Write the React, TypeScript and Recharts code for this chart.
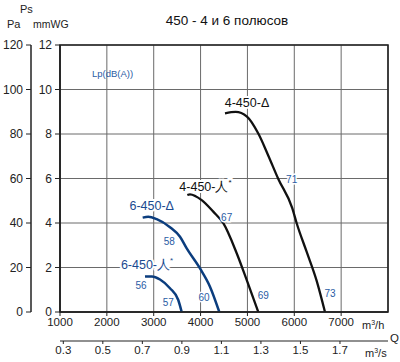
import React from 'react';
import {
  ComposedChart,
  Line,
  Scatter,
  XAxis,
  YAxis,
  CartesianGrid,
  ReferenceArea,
} from 'recharts';

// ---- axis ticks ----
const flowTicks = [1000, 2000, 3000, 4000, 5000, 6000, 7000];
const qTicks = [0.3, 0.5, 0.7, 0.9, 1.1, 1.3, 1.5, 1.7];
const mmTicks = [0, 2, 4, 6, 8, 10, 12];
const paTicks = [0, 20, 40, 60, 80, 100, 120];

// ---- curves: q = m3/h, p = mmWG ----
const curve4Delta = [
  { q: 4521, p: 8.93 },
  { q: 4749, p: 8.99 },
  { q: 4990, p: 8.78 },
  { q: 5232, p: 8.02 },
  { q: 5439, p: 7.06 },
  { q: 5659, p: 5.98 },
  { q: 5957, p: 4.67 },
  { q: 6051, p: 3.99 },
  { q: 6265, p: 2.7 },
  { q: 6478, p: 1.4 },
  { q: 6655, p: 0 },
];
const curve4Star = [
  { q: 3717, p: 5.26 },
  { q: 3774, p: 5.29 },
  { q: 4024, p: 5.03 },
  { q: 4271, p: 4.51 },
  { q: 4485, p: 3.99 },
  { q: 4771, p: 2.64 },
  { q: 4984, p: 1.44 },
  { q: 5232, p: 0 },
];
const curve6Delta = [
  { q: 2765, p: 4.24 },
  { q: 2884, p: 4.28 },
  { q: 3064, p: 4.17 },
  { q: 3347, p: 3.81 },
  { q: 3561, p: 3.38 },
  { q: 3704, p: 2.86 },
  { q: 3988, p: 1.96 },
  { q: 4201, p: 1.14 },
  { q: 4400, p: 0 },
];
const curve6Star = [
  { q: 2814, p: 1.59 },
  { q: 2963, p: 1.6 },
  { q: 3134, p: 1.46 },
  { q: 3347, p: 1.07 },
  { q: 3524, p: 0.54 },
  { q: 3597, p: 0 },
];

// ---- annotations ----
const curveNames = [
  { q: 4991, p: 9.39, text: '4-450-Δ', star: false, color: '#111' },
  { q: 4105, p: 5.62, text: '4-450-人', star: true, color: '#111' },
  { q: 2957, p: 4.76, text: '6-450-Δ', star: false, color: '#1a4a90' },
  { q: 2857, p: 2.11, text: '6-450-人', star: true, color: '#1a4a90' },
];
const noiseLabels = [
  { q: 3333, p: 3.16, text: '58' },
  { q: 2729, p: 1.18, text: '56' },
  { q: 3311, p: 0.42, text: '57' },
  { q: 4073, p: 0.66, text: '60' },
  { q: 4557, p: 4.26, text: '67' },
  { q: 5339, p: 0.76, text: '69' },
  { q: 5944, p: 5.96, text: '71' },
  { q: 6762, p: 0.81, text: '73' },
];
// m3/s tick positions placed on the secondary axis
const qAxisPoints = qTicks.map((s) => ({ s, p: 0 }));

const FONT = 'Liberation Sans, Arial, sans-serif';
const BLUE = '#0b3d7e';
const LABEL_BLUE = '#2a5ca4';
const DARK = '#222';

const NameShape = (props: any) => {
  const { cx, cy, payload } = props;
  return (
    <text
      x={cx}
      y={cy}
      textAnchor="middle"
      dominantBaseline="central"
      fontFamily={FONT}
      fontSize={12.5}
      fill={payload.color}
      stroke="#fff"
      strokeWidth={4}
      paintOrder="stroke"
    >
      {payload.text}
      {payload.star ? (
        <tspan fontSize={8} dy={-5}>
          *
        </tspan>
      ) : null}
    </text>
  );
};

const NoiseShape = (props: any) => {
  const { cx, cy, payload } = props;
  return (
    <text
      x={cx}
      y={cy}
      textAnchor="middle"
      dominantBaseline="central"
      fontFamily={FONT}
      fontSize={10}
      fill={LABEL_BLUE}
      stroke="#fff"
      strokeWidth={3}
      paintOrder="stroke"
    >
      {payload.text}
    </text>
  );
};

const NoShape = () => <g />;

export default function App() {
  const tickStyle = { fill: DARK, fontSize: 11.5, fontFamily: FONT };
  return (
    <div style={{ position: 'absolute', left: 0, top: 0, width: 400, height: 362, background: '#fff' }}>
      <ComposedChart
        width={400}
        height={362}
        margin={{ top: 45, right: 12, bottom: 0, left: 0 }}
      >
        <CartesianGrid
          xAxisId="flow"
          yAxisId="mm"
          stroke="#6a6a6a"
          strokeWidth={1}
        />
        <XAxis
          xAxisId="flow"
          type="number"
          dataKey="q"
          domain={[1000, 8000]}
          allowDataOverflow
          ticks={flowTicks}
          height={29}
          tickSize={4}
          tickMargin={2}
          axisLine={{ stroke: DARK, strokeWidth: 1.5 }}
          tickLine={{ stroke: DARK }}
          tick={tickStyle}
        />
        <XAxis
          xAxisId="q"
          type="number"
          dataKey="s"
          domain={[0.2833, 1.943]}
          allowDataOverflow
          ticks={qTicks}
          interval={0}
          tickFormatter={(v: number) => v.toFixed(1)}
          height={21}
          tickSize={3}
          tickMargin={2}
          axisLine={{ stroke: DARK, strokeWidth: 1.2 }}
          tickLine={{ stroke: DARK }}
          tick={tickStyle}
        />
        <YAxis
          yAxisId="mm"
          type="number"
          domain={[0, 12]}
          allowDataOverflow
          ticks={mmTicks}
          width={29}
          tickSize={5}
          tickMargin={3}
          axisLine={{ stroke: DARK, strokeWidth: 1.5 }}
          tickLine={{ stroke: DARK }}
          tick={{ fill: DARK, fontSize: 12, fontFamily: FONT }}
        />
        <YAxis
          yAxisId="pa"
          type="number"
          domain={[0, 120]}
          allowDataOverflow
          ticks={paTicks}
          width={31}
          tickSize={5}
          tickMargin={3}
          axisLine={{ stroke: DARK, strokeWidth: 1.5 }}
          tickLine={{ stroke: DARK }}
          tick={{ fill: DARK, fontSize: 12, fontFamily: FONT }}
        />
        <Scatter
          xAxisId="q"
          yAxisId="mm"
          data={qAxisPoints}
          dataKey="p"
          shape={NoShape}
          isAnimationActive={false}
        />
        <Scatter
          xAxisId="flow"
          yAxisId="mm"
          data={noiseLabels}
          dataKey="p"
          shape={NoiseShape}
          isAnimationActive={false}
        />
        <Scatter
          xAxisId="flow"
          yAxisId="mm"
          data={curveNames}
          dataKey="p"
          shape={NameShape}
          isAnimationActive={false}
        />
        <Line
          xAxisId="flow"
          yAxisId="mm"
          data={curve4Delta}
          dataKey="p"
          type="monotone"
          stroke="#111"
          strokeWidth={2.3}
          dot={false}
          activeDot={false}
          isAnimationActive={false}
        />
        <Line
          xAxisId="flow"
          yAxisId="mm"
          data={curve4Star}
          dataKey="p"
          type="monotone"
          stroke="#111"
          strokeWidth={2.3}
          dot={false}
          activeDot={false}
          isAnimationActive={false}
        />
        <Line
          xAxisId="flow"
          yAxisId="mm"
          data={curve6Delta}
          dataKey="p"
          type="monotone"
          stroke={BLUE}
          strokeWidth={2.5}
          dot={false}
          activeDot={false}
          isAnimationActive={false}
        />
        <Line
          xAxisId="flow"
          yAxisId="mm"
          data={curve6Star}
          dataKey="p"
          type="monotone"
          stroke={BLUE}
          strokeWidth={2.5}
          dot={false}
          activeDot={false}
          isAnimationActive={false}
        />
        <ReferenceArea
          xAxisId="flow"
          yAxisId="mm"
          x1={1000}
          x2={8000}
          y1={0}
          y2={12}
          fill="none"
          fillOpacity={0}
          stroke={DARK}
          strokeWidth={1.6}
          ifOverflow="visible"
        />
      </ComposedChart>
      <svg
        width={400}
        height={362}
        style={{ position: 'absolute', left: 0, top: 0, pointerEvents: 'none' }}
      >
        <text x={227} y={25} textAnchor="middle" fontFamily={FONT} fontSize={13.5} fill="#111">
          450 - 4 и 6 полюсов
        </text>
        <text x={20} y={13} fontFamily={FONT} fontSize={11} fill={DARK}>Ps</text>
        <text x={7} y={28} fontFamily={FONT} fontSize={11} fill={DARK}>Pa</text>
        <text x={33} y={28} fontFamily={FONT} fontSize={10.5} fill={DARK}>mmWG</text>
        <text x={92} y={77} fontFamily={FONT} fontSize={9.5} fill={LABEL_BLUE}>Lp(dB(A))</text>
        <text x={362} y={329} fontFamily={FONT} fontSize={11} fill={DARK}>
          m<tspan fontSize={7} dy={-4}>3</tspan><tspan dy={4}>/h</tspan>
        </text>
        <text x={390} y={342} fontFamily={FONT} fontSize={11.5} fill={DARK}>Q</text>
        <text x={365} y={357} fontFamily={FONT} fontSize={11} fill={DARK}>
          m<tspan fontSize={7} dy={-4}>3</tspan><tspan dy={4}>/s</tspan>
        </text>
      </svg>
    </div>
  );
}
